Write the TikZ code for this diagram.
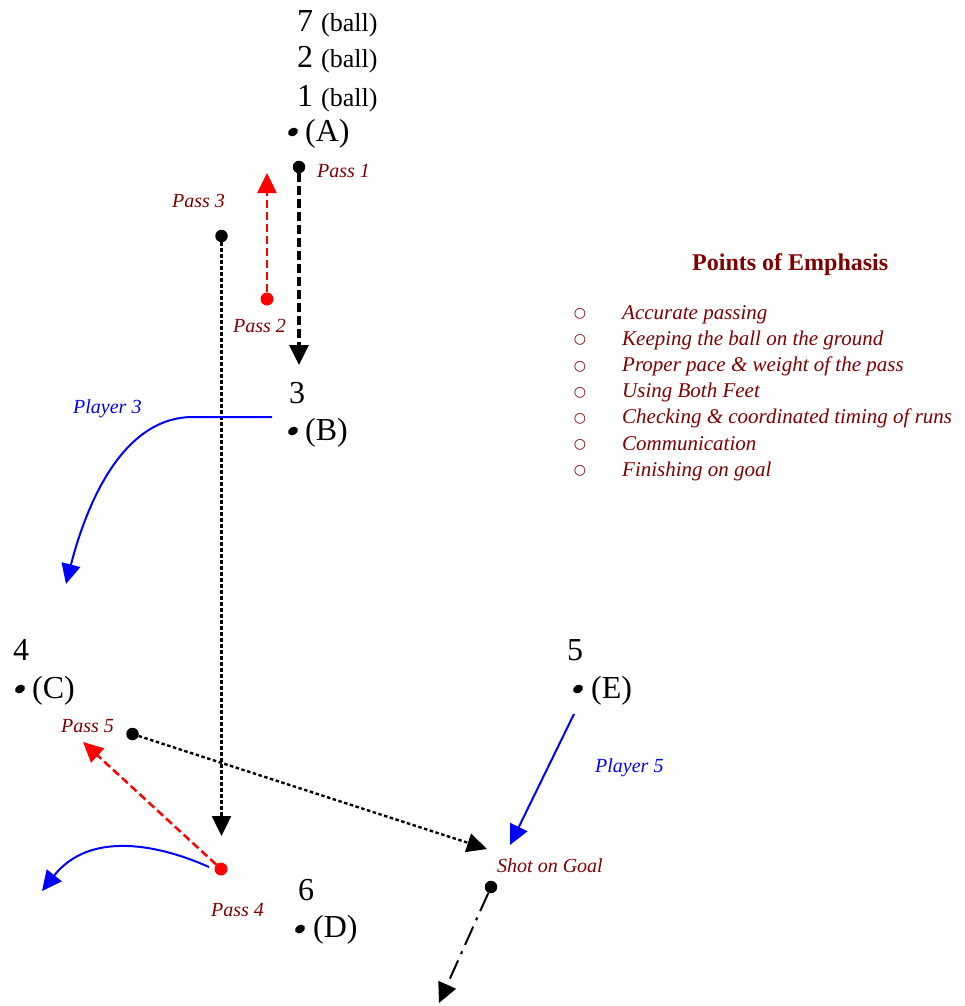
\documentclass[tikz,border=0pt]{standalone}
\usepackage{fontspec}
\setmainfont{Liberation Serif}
\newfontfamily\symfont{DejaVu Sans}
\usetikzlibrary{arrows.meta, positioning, shapes.geometric}
\definecolor{maroon}{RGB}{128,0,0}
\newcommand{\ballsz}{\fontsize{26}{30}\selectfont}

\begin{document}
\begin{tikzpicture}[
    x=1pt, y=-1pt,
    num/.style={anchor=base west, inner sep=0pt, font=\fontsize{32}{38}\selectfont},
    spot/.style={ellipse, fill=black, minimum width=10.5pt, minimum height=8pt,
                 inner sep=0pt, rotate=30},
    ballpt/.style={circle, fill=black, minimum size=12.5pt, inner sep=0pt},
    redpt/.style={circle, fill=red, minimum size=13pt, inner sep=0pt},
    note/.style={anchor=base west, inner sep=0pt, text=maroon,
                 font=\fontsize{20}{24}\selectfont\itshape},
    runlabel/.style={note, text=blue},
    item/.style={anchor=base west, inner sep=0pt, text=maroon,
                 font=\fontsize{21}{25}\selectfont\itshape},
    bul/.style={anchor=center, inner sep=0pt, text=maroon,
                font=\fontsize{14}{16}\selectfont\symfont},
    arr/.style={-{Triangle[length=20pt, width=19pt]}},
    pass/.style={arr, line width=3.2pt, dash pattern=on 9pt off 4pt},
    redpass/.style={arr, red, line width=2.5pt, dash pattern=on 8pt off 4pt},
    longpass/.style={arr, line width=2.4pt, dash pattern=on 3.5pt off 2.5pt},
    runline/.style={arr, blue, line width=2pt},
    shot/.style={arr, line width=2pt, dash pattern=on 20pt off 7pt on 3pt off 7pt},
]
\useasboundingbox (0,0) rectangle (964,1006);

% players
\node[num] (n7) at (297,32)  {7 {\ballsz(ball)}};
\node[num] (n2) at (297,68)  {2 {\ballsz(ball)}};
\node[num] (n1) at (297,107) {1 {\ballsz(ball)}};
\node[spot] (spotA) at (293,132) {};
\node[num] (tagA) at (305,142) {(A)};

\node[num] (n3) at (289,403) {3};
\node[spot] (spotB) at (293,431) {};
\node[num] (tagB) at (305,440) {(B)};

\node[num] (n4) at (13,660) {4};
\node[spot] (spotC) at (20,689) {};
\node[num] (tagC) at (32,698) {(C)};

\node[num] (n5) at (567,660) {5};
\node[spot] (spotE) at (578,689) {};
\node[num] (tagE) at (591,698) {(E)};

\node[num] (n6) at (298,900) {6};
\node[spot] (spotD) at (300,929) {};
\node[num] (tagD) at (313,937) {(D)};

% passes
\node[ballpt] (p1) at (299,167) {};
\coordinate (p1end) at (299,365);
\node[note] (lp1) at (317,177) {Pass 1};
\draw[pass] (p1) -- (p1end);

\node[redpt] (p2) at (267,299) {};
\coordinate (p2end) at (267,173);
\node[note] (lp2) at (233,332) {Pass 2};
\draw[redpass] (p2) -- (p2end);

\node[ballpt] (p3) at (221.5,236) {};
\coordinate (p3end) at (221.5,836);
\node[note] (lp3) at (172,207) {Pass 3};
\draw[longpass] (p3) -- (p3end);

\node[redpt] (p4) at (221,869) {};
\coordinate (p4end) at (83,742);
\node[note] (lp4) at (211,916) {Pass 4};
\draw[redpass] (p4) -- (p4end);

\node[ballpt] (p5) at (132.5,734) {};
\coordinate (p5end) at (487,849);
\node[note] (lp5) at (61,732) {Pass 5};
\draw[longpass] (p5) -- (p5end);

\node[ballpt] (goal) at (491,887) {};
\coordinate (goalend) at (439,1003);
\node[note] (lgoal) at (497,872) {Shot on Goal};
\draw[shot] (goal) -- (goalend);

% runs
\coordinate (r3a) at (272,417);
\coordinate (r3b) at (193,417);
\coordinate (r3end) at (66,584);
\node[runlabel] (lr3) at (73,413) {Player 3};
\draw[runline] (r3a) -- (r3b) .. controls (120,417) and (85,510) .. (r3end);

\coordinate (r5a) at (574,714);
\coordinate (r5end) at (510,845);
\node[runlabel] (lr5) at (595,772) {Player 5};
\draw[runline] (r5a) -- (r5end);

\coordinate (r4a) at (209,867);
\coordinate (r4end) at (42,891);
\draw[runline] (r4a) .. controls (160,845) and (90,830) .. (r4end);

% points of emphasis
\node[anchor=base west, inner sep=0pt, text=maroon,
      font=\fontsize{24}{28}\selectfont\bfseries] (poe) at (692,270) {Points of Emphasis};
\foreach \txt [count=\i] in {Accurate passing, Keeping the ball on the ground,
    Proper pace \& weight of the pass, Using Both Feet,
    Checking \& coordinated timing of runs, Communication, Finishing on goal} {
  \node[bul]  (b\i) at (580, 287.8+26.2*\i) {○};
  \node[item] (i\i) at (622, 292.8+26.2*\i) {\txt};
}
\end{tikzpicture}
\end{document}
